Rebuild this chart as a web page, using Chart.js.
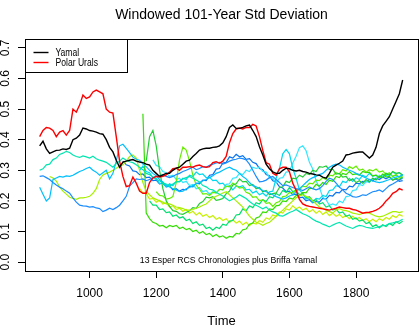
<!DOCTYPE html>
<html>
<head>
<meta charset="utf-8">
<title>Windowed 101-Year Std Deviation</title>
<script src="https://cdn.jsdelivr.net/npm/chart.js@4.4.0/dist/chart.umd.min.js"></script>
<style>
  body{margin:0;background:#fff;}
  #sdChart{display:block;}
</style>
</head>
<body>
<canvas id="sdChart" width="420" height="332"></canvas>
<script>
const yearTicks = [1000, 1200, 1400, 1600, 1800];
const sdTicks = [0, 0.1, 0.2, 0.3, 0.4, 0.5, 0.6, 0.7];

// windowed std, one value per decade from the start year
const yamalStart = 850;
const yamal = [
  .38,.395,.37,.355,.36,.365,.366,.37,.368,.372,
  .40,.405,.415,.438,.435,.43,.428,.425,.42,.418,
  .40,.375,.36,.333,.31,.327,.33,.333,.335,.33,
  .327,.325,.32,.317,.30,.29,.28,.285,.29,.29,
  .30,.307,.31,.32,.33,.333,.345,.355,.366,.37,
  .372,.372,.375,.376,.38,.39,.41,.44,.448,.437,
  .437,.44,.445,.448,.43,.41,.377,.35,.32,.305,
  .295,.29,.29,.30,.307,.305,.30,.298,.30,.296,
  .294,.29,.288,.285,.284,.278,.274,.29,.31,.317,
  .323,.33,.35,.352,.356,.358,.36,.36,.35,.34,
  .35,.375,.42,.445,.46,.475,.50,.525,.55,.595
];

const uralsStart = 850;
const urals = [
  .41,.43,.44,.438,.43,.41,.425,.43,.415,.43,
  .50,.49,.513,.546,.535,.54,.556,.562,.556,.55,
  .50,.49,.487,.41,.33,.28,.247,.25,.278,.258,
  .232,.225,.225,.26,.275,.28,.278,.28,.285,.294,
  .305,.307,.30,.31,.31,.312,.31,.315,.317,.312,
  .31,.312,.325,.328,.323,.33,.345,.39,.42,.435,
  .438,.435,.44,.44,.45,.445,.41,.365,.325,.32,
  .29,.284,.305,.31,.31,.295,.258,.235,.205,.19,
  .185,.182,.18,.178,.176,.174,.172,.17,.173,.176,
  .18,.178,.176,.176,.172,.17,.165,.16,.162,.163,
  .166,.17,.176,.186,.2,.21,.225,.23,.24,.235
];

// the other Esper chronologies
const chron1Start = 850;
const chron1 = [
  .30,.305,.318,.32,.335,.34,.352,.356,.362,.358,
  .35,.345,.342,.347,.344,.34,.346,.338,.333,.33,
  .326,.318,.31,.322,.33,.34,.333,.328,.325,.318,
  .31,.302,.29,.286,.278,.27,.266,.258,.255,.248,
  .255,.262,.264,.272,.276,.28,.274,.268,.262,.25,
  .246,.238,.236,.228,.222,.216,.208,.2,.206,.212,
  .22,.214,.208,.198,.19,.186,.18,.174,.18,.17,
  .164,.16,.152,.15,.156,.162,.166,.172,.165,.158,
  .154,.148,.14,.134,.13,.124,.12,.115,.121,.126,
  .13,.124,.118,.114,.11,.116,.12,.118,.114,.112,
  .11,.113,.116,.119,.12,.126,.128,.131,.134,.14
];

const chron2Start = 850;
const chron2 = [
  .28,.282,.276,.27,.26,.252,.245,.24,.232,.225,
  .21,.196,.186,.184,.183,.18,.181,.177,.175,.165,
  .17,.176,.172,.178,.186,.2,.215,.248,.26,.272,
  .27,.272,.266,.27,.276,.28,.283,.285,.28,.276,
  .28,.286,.29,.296,.30,.305,.31,.302,.306,.312,
  .31,.316,.32,.324,.326,.32,.324,.33,.334,.336,
  .34,.338,.334,.32,.30,.28,.262,.264,.268,.276,
  .28,.27,.26,.25,.252,.248,.244,.24,.238,.234,
  .24,.246,.24,.236,.24,.25,.264,.274,.27,.258,
  .245,.236,.225,.22,.214,.212,.215,.22,.218,.224,
  .23,.232,.236,.23,.24,.25,.255,.262,.268,.274
];

const chron3Start = 850;
const chron3 = [
  .245,.222,.2,.21,.27,.275,.28,.278,.282,.28,
  .284,.29,.296,.30,.306,.31,.30,.294,.284,.292,
  .30,.272,.29,.33,.38,.385,.372,.358,.343,.336,
  .333,.32,.312,.30,.29,.282,.27,.262,.25,.246,
  .24,.236,.23,.232,.24,.244,.25,.256,.26,.266,
  .27,.276,.282,.29,.294,.30,.306,.31,.304,.30,
  .29,.28,.272,.26,.25,.246,.24,.234,.23,.226,
  .22,.214,.21,.206,.21,.216,.22,.23,.24,.25,
  .26,.27,.276,.28,.286,.29,.30,.31,.316,.32,
  .318,.31,.305,.30,.296,.29,.286,.28,.275,.27,
  .265,.262,.26,.262,.266,.27,.275,.278,.28,.285
];

const chron4Start = 880;
const chron4 = [
  .28,.275,.265,.245,.232,.222,.212,.208,.205,.21,
  .21,.212,.215,.225,.24,.27,.285,.29,.294,.30,
  .307,.314,.318,.33,.345,.35,.34,.30,.26,.232,
  .22,.21,.205,.2,.196,.19,.19,.186,.18,.178,
  .175,.17,.17,.172,.176,.18,.186,.19,.2,.21,
  .215,.22,.226,.23,.22,.21,.2,.19,.18,.165,
  .15,.14,.13,.126,.12,.126,.13,.14,.15,.16,
  .17,.18,.19,.2,.21,.215,.22,.215,.21,.2,
  .19,.18,.176,.17,.165,.16,.17,.175,.17,.168,
  .165,.16,.158,.155,.16,.162,.16,.155,.15,.148,
  .15,.155,.16,.165,.165,.162,.165
];

const chron5Start = 1160;
const chron5 = [
  .485,.16,.142,.13,.126,.118,.12,.112,.12,.116,
  .12,.11,.114,.106,.11,.1,.104,.094,.1,.09,
  .094,.084,.09,.082,.086,.078,.084,.082,.094,.092,
  .106,.108,.124,.128,.144,.148,.164,.162,.174,.172,
  .184,.186,.2,.198,.21,.206,.218,.216,.228,.226,
  .242,.24,.254,.248,.26,.254,.268,.264,.28,.276,
  .29,.286,.296,.286,.288,.284,.296,.292,.294,.282,
  .284,.276,.288,.278,.28,.268,.274,.27,.278
];

const chron6Start = 1170;
const chron6 = [
  .33,.41,.43,.38,.30,.24,.2,.182,.168,.166,
  .158,.156,.162,.168,.178,.176,.192,.198,.212,.21,
  .214,.202,.204,.208,.224,.232,.252,.256,.272,.262,
  .264,.25,.254,.24,.244,.23,.234,.22,.224,.226,
  .244,.246,.264,.26,.274,.272,.284,.278,.29,.286,
  .3,.296,.312,.31,.314,.302,.304,.288,.29,.278,
  .28,.266,.272,.26,.266,.258,.27,.262,.274,.268,
  .28,.276,.29,.284,.296,.29,.292,.284
];

const chron7Start = 1200;
const chron7 = [
  .23,.218,.216,.206,.208,.214,.26,.334,.376,.366,
  .33,.284,.252,.238,.222,.224,.218,.228,.226,.238,
  .236,.248,.246,.258,.25,.242,.244,.228,.224,.212,
  .214,.2,.204,.192,.194,.182,.194,.198,.214,.216,
  .228,.226,.238,.236,.248,.246,.258,.256,.268,.266,
  .276,.27,.284,.282,.292,.288,.302,.298,.312,.306,
  .314,.3,.304,.294,.302,.298,.304,.294,.298,.286,
  .292,.28,.286,.276,.282
];

const chron8Start = 1180;
const chron8 = [
  .2,.186,.186,.172,.174,.162,.164,.15,.154,.144,
  .148,.136,.14,.126,.132,.12,.124,.11,.114,.104,
  .114,.11,.124,.12,.134,.136,.154,.156,.174,.168,
  .184,.178,.194,.19,.204,.198,.214,.21,.224,.218,
  .234,.228,.244,.23,.234,.22,.224,.21,.214,.2,
  .204,.19,.194,.18,.184,.17,.174,.16,.164,.15,
  .154,.14,.144,.134,.138,.126,.13,.116,.122,.112,
  .122,.116,.126,.12,.132,.126,.134
];

const chron9Start = 1150;
const chron9 = [
  .30,.314,.296,.292,.276,.274,.256,.26,.246,.256,
  .25,.264,.262,.274,.27,.284,.28,.294,.286,.288,
  .276,.278,.266,.268,.256,.258,.246,.25,.236,.248,
  .246,.25,.236,.238,.226,.232,.22,.226,.216,.23,
  .232,.274,.306,.354,.368,.354,.306,.274,.236,.224,
  .206,.21,.196,.208,.206,.218,.214,.234,.236,.25,
  .246,.264,.26,.274,.264,.276,.27,.284,.278,.29,
  .28,.284,.276,.286,.282,.288,.28,.284,.278,.286
];

const chron10Start = 1190;
const chron10 = [
  .334,.316,.312,.296,.292,.28,.284,.27,.274,.26,
  .264,.25,.254,.24,.244,.23,.234,.222,.23,.226,
  .238,.236,.254,.256,.274,.276,.29,.286,.3,.296,
  .31,.306,.31,.296,.294,.276,.274,.26,.274,.276,
  .294,.296,.324,.346,.374,.38,.364,.326,.304,.266,
  .244,.212,.204,.186,.19,.186,.2,.194,.214,.216,
  .234,.236,.254,.25,.264,.26,.274,.27,.284,.278,
  .29,.284,.294,.288,.292,.284
];

const chron11Start = 1150;
const chron11 = [
  .24,.226,.224,.206,.208,.196,.202,.19,.194,.18,
  .184,.172,.176,.166,.172,.16,.166,.154,.162,.15,
  .156,.146,.152,.14,.146,.136,.142,.13,.138,.128,
  .134,.122,.13,.12,.128,.124,.136,.13,.144,.14,
  .154,.15,.164,.16,.174,.17,.184,.174,.18,.17,
  .176,.164,.172,.16,.168,.156,.164,.152,.16,.15,
  .156,.146,.152,.142,.15,.14,.146,.136,.142,.132,
  .14,.132,.142,.136,.146,.14,.152,.146,.156,.15
];

const chron12Start = 1100;
const chron12 = [
  .33,.318,.314,.298,.296,.286,.288,.276,.278,.266,
  .268,.256,.258,.246,.248,.236,.24,.232,.238,.236,
  .248,.246,.258,.256,.268,.266,.284,.286,.304,.306,
  .324,.326,.344,.34,.352,.344,.348,.336,.338,.326,
  .322,.306,.302,.286,.282,.266,.262,.246,.242,.23,
  .232,.22,.222,.21,.212,.2,.204,.194,.198,.196,
  .208,.206,.218,.216,.228,.226,.238,.236,.248,.246,
  .258,.256,.264,.262,.27,.266,.274,.27,.278,.272,
  .278,.268,.272,.264,.266
];

const FONT = '"Liberation Sans", Arial, sans-serif';

function decades(start, values){
  return values.map(function(v, i){ return {x: start + 10 * i, y: v}; });
}

function series(label, start, values, color, width){
  return {
    label: label,
    data: decades(start, values),
    borderColor: color,
    borderWidth: width || 1.2,
    pointRadius: 0,
    tension: 0,
    fill: false
  };
}

// condensed text, the legend and the note use a narrow face
function narrowText(ctx, text, x, y, squeeze){
  ctx.save();
  ctx.translate(x, y);
  ctx.scale(squeeze, 1);
  ctx.fillText(text, 0, 0);
  ctx.restore();
}

// box, title, rotated y labels, legend and note, drawn the way R does them
const rFrame = {
  id: 'rFrame',
  afterDraw: function(chart){
    const ctx = chart.ctx;
    const a = chart.chartArea;
    const xs = chart.scales.x;
    const ys = chart.scales.y;
    ctx.save();
    ctx.strokeStyle = '#000';
    ctx.fillStyle = '#000';
    ctx.lineWidth = 1;
    ctx.strokeRect(Math.round(a.left) + 0.5, Math.round(a.top) + 0.5,
                   Math.round(a.right - a.left), Math.round(a.bottom - a.top));

    ctx.font = '14px ' + FONT;
    ctx.textAlign = 'center';
    ctx.textBaseline = 'alphabetic';
    ctx.fillText('Windowed 101-Year Std Deviation', (a.left + a.right) / 2, 19);

    ctx.font = '12px ' + FONT;
    sdTicks.forEach(function(v){
      ctx.save();
      ctx.translate(9, ys.getPixelForValue(v));
      ctx.rotate(-Math.PI / 2);
      ctx.fillText(v.toFixed(1), 0, 0);
      ctx.restore();
    });

    // legend
    const lx = Math.round(a.left) + 0.5, ly = Math.round(a.top) + 0.5;
    ctx.fillStyle = '#fff';
    ctx.fillRect(lx, ly, 102, 33);
    ctx.strokeRect(lx, ly, 102, 33);
    const items = [chart.data.datasets[0], chart.data.datasets[1]];
    ctx.font = '11px ' + FONT;
    ctx.textAlign = 'left';
    ctx.textBaseline = 'middle';
    items.forEach(function(ds, i){
      const y = ly + 13 + i * 10;
      ctx.strokeStyle = ds.borderColor;
      ctx.lineWidth = 1.4;
      ctx.beginPath();
      ctx.moveTo(lx + 8, y);
      ctx.lineTo(lx + 23, y);
      ctx.stroke();
      ctx.fillStyle = '#000';
      narrowText(ctx, ds.label, lx + 30, y, 0.78);
    });

    ctx.font = '9px ' + FONT;
    ctx.textAlign = 'center';
    narrowText(ctx, '13 Esper RCS Chronologies plus Briffa Yamal',
               xs.getPixelForValue(1417), ys.getPixelForValue(0.006), 0.97);
    ctx.restore();
  }
};

const axisGrid = {
  display: true,
  drawOnChartArea: false,
  drawTicks: true,
  tickLength: 7,
  color: '#000',
  lineWidth: 1
};

new Chart(document.getElementById('sdChart'), {
  type: 'line',
  data: {
    datasets: [
      series('Yamal', yamalStart, yamal, '#000000', 1.4),
      series('Polar Urals', uralsStart, urals, '#ff0000', 1.4),
      series('c1', chron1Start, chron1, '#00e6b0'),
      series('c2', chron2Start, chron2, '#1a8cff'),
      series('c3', chron3Start, chron3, '#00bfff'),
      series('c4', chron4Start, chron4, '#a8f000'),
      series('c5', chron5Start, chron5, '#33dd00'),
      series('c6', chron6Start, chron6, '#22cc33'),
      series('c7', chron7Start, chron7, '#66ee00'),
      series('c8', chron8Start, chron8, '#00e070'),
      series('c9', chron9Start, chron9, '#00d8f0'),
      series('c10', chron10Start, chron10, '#33e6ff'),
      series('c11', chron11Start, chron11, '#c8f000'),
      series('c12', chron12Start, chron12, '#0a74f0')
    ]
  },
  options: {
    responsive: false,
    animation: false,
    devicePixelRatio: 1,
    layout: {padding: {top: 39, right: 2, left: 0, bottom: 0}},
    plugins: {
      legend: {display: false},
      title: {display: false},
      tooltip: {enabled: false}
    },
    scales: {
      x: {
        type: 'linear',
        min: 806,
        max: 1986,
        afterBuildTicks: function(s){ s.ticks = yearTicks.map(function(v){ return {value: v}; }); },
        afterFit: function(s){ s.height = 61; },
        grid: axisGrid,
        border: {display: false},
        ticks: {
          color: '#000',
          font: {family: FONT, size: 12},
          padding: 8,
          maxRotation: 0,
          autoSkip: false,
          callback: function(v){ return String(v); }
        },
        title: {
          display: true,
          text: 'Time',
          color: '#000',
          font: {family: FONT, size: 13},
          padding: {top: 0, bottom: 3}
        }
      },
      y: {
        type: 'linear',
        min: -0.029,
        max: 0.729,
        afterBuildTicks: function(s){ s.ticks = sdTicks.map(function(v){ return {value: v}; }); },
        afterFit: function(s){ s.width = 25; },
        grid: axisGrid,
        border: {display: false},
        ticks: {display: false}
      }
    }
  },
  plugins: [rFrame]
});
</script>
</body>
</html>
